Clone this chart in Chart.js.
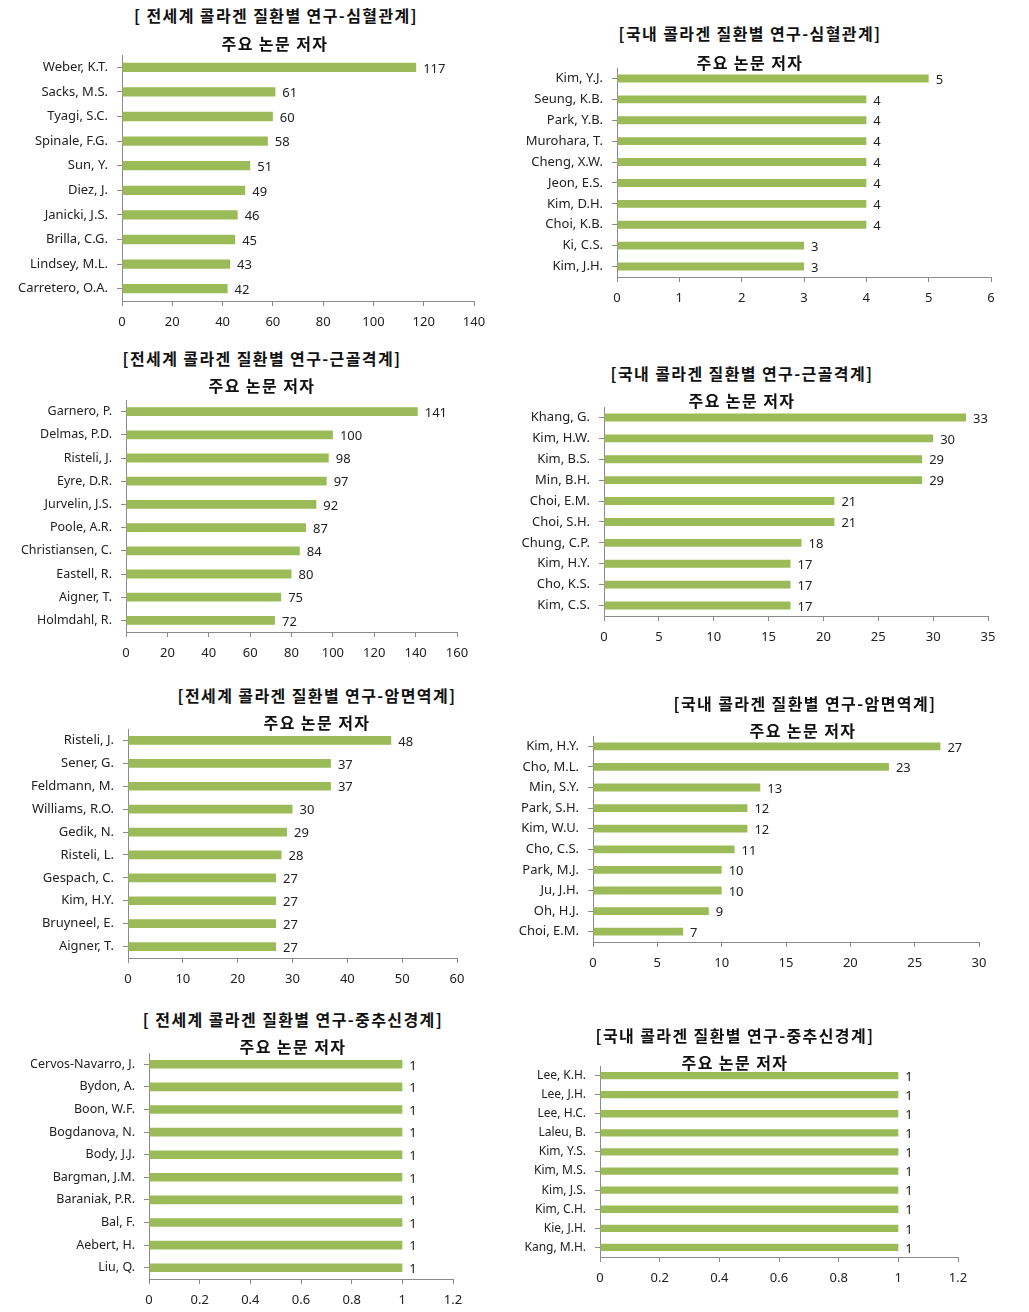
<!DOCTYPE html>
<html><head><meta charset="utf-8">
<script src="https://cdn.jsdelivr.net/npm/chart.js@4.4.1/dist/chart.umd.min.js"></script>
<style>
html,body{margin:0;padding:0;background:#fff;}
#wrap{position:relative;width:1029px;height:1312px;overflow:hidden;background:#fff;}
canvas{position:absolute;}
.t{position:absolute;transform:translate(-50%,-50%);white-space:nowrap;font-family:'Noto Sans CJK KR',sans-serif;font-weight:700;font-size:16px;letter-spacing:1.4px;color:#111;line-height:1;}
</style></head><body><div id="wrap"></div>
<script>
// ---- data ----
const titles = [
  '[ 전세계 콜라겐 질환별 연구-심혈관계]',
  '[국내 콜라겐 질환별 연구-심혈관계]',
  '[전세계 콜라겐 질환별 연구-근골격계]',
  '[국내 콜라겐 질환별 연구-근골격계]',
  '[전세계 콜라겐 질환별 연구-암면역계]',
  '[국내 콜라겐 질환별 연구-암면역계]',
  '[ 전세계 콜라겐 질환별 연구-중추신경계]',
  '[국내 콜라겐 질환별 연구-중추신경계]'
];
const subtitle = '주요 논문 저자';

const labels1 = ['Weber, K.T.','Sacks, M.S.','Tyagi, S.C.','Spinale, F.G.','Sun, Y.','Diez, J.','Janicki, J.S.','Brilla, C.G.','Lindsey, M.L.','Carretero, O.A.'];
const values1 = [117,61,60,58,51,49,46,45,43,42];
const labels2 = ['Kim, Y.J.','Seung, K.B.','Park, Y.B.','Murohara, T.','Cheng, X.W.','Jeon, E.S.','Kim, D.H.','Choi, K.B.','Ki, C.S.','Kim, J.H.'];
const values2 = [5,4,4,4,4,4,4,4,3,3];
const labels3 = ['Garnero, P.','Delmas, P.D.','Risteli, J.','Eyre, D.R.','Jurvelin, J.S.','Poole, A.R.','Christiansen, C.','Eastell, R.','Aigner, T.','Holmdahl, R.'];
const values3 = [141,100,98,97,92,87,84,80,75,72];
const labels4 = ['Khang, G.','Kim, H.W.','Kim, B.S.','Min, B.H.','Choi, E.M.','Choi, S.H.','Chung, C.P.','Kim, H.Y.','Cho, K.S.','Kim, C.S.'];
const values4 = [33,30,29,29,21,21,18,17,17,17];
const labels5 = ['Risteli, J.','Sener, G.','Feldmann, M.','Williams, R.O.','Gedik, N.','Risteli, L.','Gespach, C.','Kim, H.Y.','Bruyneel, E.','Aigner, T.'];
const values5 = [48,37,37,30,29,28,27,27,27,27];
const labels6 = ['Kim, H.Y.','Cho, M.L.','Min, S.Y.','Park, S.H.','Kim, W.U.','Cho, C.S.','Park, M.J.','Ju, J.H.','Oh, H.J.','Choi, E.M.'];
const values6 = [27,23,13,12,12,11,10,10,9,7];
const labels7 = ['Cervos-Navarro, J.','Bydon, A.','Boon, W.F.','Bogdanova, N.','Body, J.J.','Bargman, J.M.','Baraniak, P.R.','Bal, F.','Aebert, H.','Liu, Q.'];
const values7 = [1,1,1,1,1,1,1,1,1,1];
const labels8 = ['Lee, K.H.','Lee, J.H.','Lee, H.C.','Laleu, B.','Kim, Y.S.','Kim, M.S.','Kim, J.S.','Kim, C.H.','Kie, J.H.','Kang, M.H.'];
const values8 = [1,1,1,1,1,1,1,1,1,1];

const axisMax  = [140, 6, 160, 35, 60, 30, 1.2, 1.2];
const axisStep = [20, 1, 20, 5, 10, 5, 0.2, 0.2];

const allLabels = [labels1,labels2,labels3,labels4,labels5,labels6,labels7,labels8];
const allValues = [values1,values2,values3,values4,values5,values6,values7,values8];

// ---- layout (plot-area boxes and title centres, in page pixels) ----
const boxes = [
  {L:122,R:474,T:55,B:301, t1:[276,15],  t2:[275,43],  fs:13},
  {L:617,R:991,T:68,B:277, t1:[750,33],  t2:[750,62],  fs:13},
  {L:126,R:457,T:400,B:632,t1:[262,358], t2:[262,385], fs:12.5},
  {L:604,R:988,T:407,B:616,t1:[742,373], t2:[742,400], fs:13},
  {L:128,R:457,T:729,B:958,t1:[317,695], t2:[317,722], fs:13},
  {L:593,R:979,T:736,B:942,t1:[805,703], t2:[803,730], fs:13},
  {L:149,R:453,T:1053,B:1279,t1:[293,1019],t2:[293,1046],fs:12.5},
  {L:600,R:958,T:1066,B:1257,t1:[735,1035],t2:[735,1062],fs:12}
];

const FONT = "'Noto Sans','Noto Sans CJK KR',sans-serif";
Chart.defaults.font.family = FONT;
Chart.defaults.color = '#222';

const YW = 118, XH = 34, PADR = 24, PADT = 22;
const wrap = document.getElementById('wrap');

const valueLabels = {
  id: 'valueLabels',
  afterDatasetsDraw(chart) {
    const ctx = chart.ctx;
    const meta = chart.getDatasetMeta(0);
    const data = chart.data.datasets[0].data;
    ctx.save();
    ctx.font = '13px ' + FONT;
    ctx.fillStyle = '#222';
    ctx.textAlign = 'left';
    ctx.textBaseline = 'middle';
    meta.data.forEach((bar, j) => {
      ctx.fillText(String(data[j]), bar.x + 7, bar.y + 1.5);
    });
    ctx.restore();
  }
};

boxes.forEach((b, i) => {
  const cl = b.L - YW, ct = b.T - PADT;
  const cw = b.R + PADR - cl, ch = b.B + XH - ct;
  const cv = document.createElement('canvas');
  cv.width = cw; cv.height = ch;
  cv.style.left = cl + 'px'; cv.style.top = ct + 'px';
  cv.style.width = cw + 'px'; cv.style.height = ch + 'px';
  wrap.appendChild(cv);

  ['t1','t2'].forEach((k, n) => {
    const d = document.createElement('div');
    d.className = 't';
    d.textContent = n === 0 ? titles[i] : subtitle;
    d.style.left = b[k][0] + 'px';
    d.style.top = b[k][1] + 'px';
    wrap.appendChild(d);
  });

  new Chart(cv, {
    type: 'bar',
    data: {
      labels: allLabels[i],
      datasets: [{
        data: allValues[i],
        backgroundColor: '#9BBB59',
        borderWidth: 0,
        barPercentage: 0.38,
        categoryPercentage: 1
      }]
    },
    options: {
      indexAxis: 'y',
      responsive: false,
      animation: false,
      devicePixelRatio: 1,
      layout: { padding: { top: PADT, right: PADR, left: 0, bottom: 0 } },
      plugins: { legend: { display: false }, title: { display: false }, tooltip: { enabled: false } },
      scales: {
        x: {
          type: 'linear', min: 0, max: axisMax[i],
          ticks: { stepSize: axisStep[i], padding: 8, color: '#222', font: { size: 13 },
                   callback: v => String(+Number(v).toFixed(2)) },
          grid: { drawOnChartArea: false, drawTicks: true, tickLength: 5, color: '#8a8a8a' },
          border: { color: '#8a8a8a' },
          afterFit(s) { s.height = XH; }
        },
        y: {
          ticks: { padding: 9, color: '#222', autoSkip: false, font: { size: b.fs } },
          grid: { drawOnChartArea: false, drawTicks: true, tickLength: 5, offset: false, color: '#8a8a8a' },
          border: { color: '#8a8a8a' },
          afterFit(s) { s.width = YW; }
        }
      }
    },
    plugins: [valueLabels]
  });
});
</script>
</body></html>
